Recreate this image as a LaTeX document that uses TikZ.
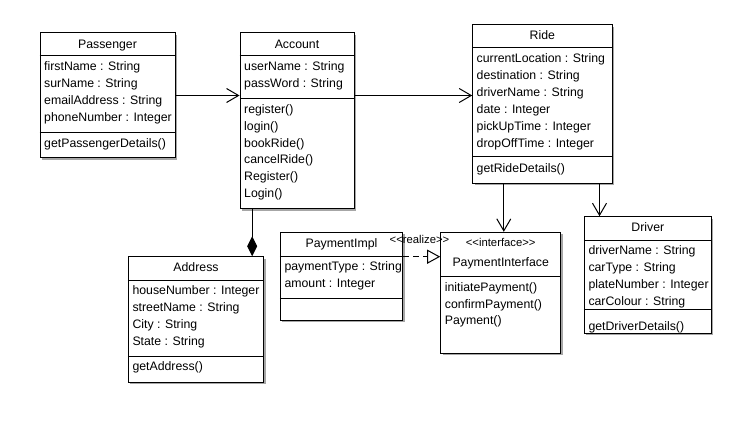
\documentclass[tikz,border=0pt]{standalone}
\usepackage{fontspec}
\setmainfont{Liberation Sans}
\usetikzlibrary{arrows.meta,fit}
\tikzset{
  cls/.style={draw=black, line width=1pt, fill=white, inner sep=0pt},
  shade/.style={fill=black!35},
  divider/.style={line width=1pt},
  txt/.style={anchor=west, inner sep=0pt, font=\fontsize{12.3}{14}\selectfont, text height=9pt, text depth=1pt},
  ttl/.style={anchor=center, inner sep=0pt, font=\fontsize{12.3}{14}\selectfont, text height=9pt, text depth=1pt},
  stereo/.style={anchor=center, inner sep=0pt, font=\fontsize{11.3}{13}\selectfont, text height=8pt, text depth=1pt},
  assoc/.style={line width=1pt, -{Straight Barb[length=12pt,width=14pt,line width=1pt]}},
  realize/.style={line width=1pt, dashed, dash pattern=on 6pt off 4pt, -{Triangle[open,length=13pt,width=14pt,line width=1pt,fill=white]}},
  comp/.style={line width=1pt, -{Diamond[length=20pt,width=10pt]}},
}
\newcommand\umlbox[5]{%
  \fill[shade] (#2+2,#3+2) rectangle (#4+2,#5+2);
  \node[cls, fit={(#2,#3) (#4,#5)}] (#1) {};
}
\newcommand\rowtext[4]{\node[txt] (#1) at (#2,#3) {#4};}
\begin{document}
\begin{tikzpicture}[x=1pt,y=-1pt]
\useasboundingbox[fill=white] (0,0) rectangle (751,438);

% Passenger
\umlbox{Passenger}{40}{33}{175}{158}
\draw[divider] (Passenger.west |- 0,56) -- (Passenger.east |- 0,56);
\draw[divider] (Passenger.west |- 0,132.3) -- (Passenger.east |- 0,132.3);
\node[ttl] (pT) at (107.5,44.5) {Passenger};
\rowtext{p1}{44}{66.7}{firstName : String}
\rowtext{p2}{44}{83.7}{surName : String}
\rowtext{p3}{44}{100.7}{emailAddress : String}
\rowtext{p4}{44}{117.7}{phoneNumber : Integer}
\rowtext{p5}{44}{143.3}{getPassengerDetails()}

% Account
\umlbox{Account}{240}{33}{354}{209}
\draw[divider] (Account.west |- 0,56) -- (Account.east |- 0,56);
\draw[divider] (Account.west |- 0,98.7) -- (Account.east |- 0,98.7);
\node[ttl] (aT) at (297,44.5) {Account};
\rowtext{a1}{244}{66.7}{userName : String}
\rowtext{a2}{244}{83.5}{passWord : String}
\rowtext{a3}{244}{109.5}{register()}
\rowtext{a4}{244}{126.3}{login()}
\rowtext{a5}{244}{143.1}{bookRide()}
\rowtext{a6}{244}{159.9}{cancelRide()}
\rowtext{a7}{244}{176.7}{Register()}
\rowtext{a8}{244}{193.5}{Login()}

% Ride
\umlbox{Ride}{472.7}{24.7}{612}{183.3}
\draw[divider] (Ride.west |- 0,48) -- (Ride.east |- 0,48);
\draw[divider] (Ride.west |- 0,156.7) -- (Ride.east |- 0,156.7);
\node[ttl] (rT) at (542.3,35.5) {Ride};
\rowtext{r1}{476.5}{59}{currentLocation : String}
\rowtext{r2}{476.5}{76}{destination : String}
\rowtext{r3}{476.5}{93}{driverName : String}
\rowtext{r4}{476.5}{110}{date : Integer}
\rowtext{r5}{476.5}{127}{pickUpTime : Integer}
\rowtext{r6}{476.5}{144}{dropOffTime : Integer}
\rowtext{r7}{476.5}{169}{getRideDetails()}

% Address
\umlbox{Address}{128.3}{256.7}{263.7}{382.3}
\draw[divider] (Address.west |- 0,280.3) -- (Address.east |- 0,280.3);
\draw[divider] (Address.west |- 0,356) -- (Address.east |- 0,356);
\node[ttl] (adT) at (196,267.5) {Address};
\rowtext{ad1}{132.3}{290.7}{houseNumber : Integer}
\rowtext{ad2}{132.3}{307.7}{streetName : String}
\rowtext{ad3}{132.3}{324.7}{City : String}
\rowtext{ad4}{132.3}{341.7}{State : String}
\rowtext{ad5}{132.3}{366.7}{getAddress()}

% PaymentImpl
\umlbox{PImpl}{280.3}{232.3}{402.7}{320}
\draw[divider] (PImpl.west |- 0,256) -- (PImpl.east |- 0,256);
\draw[divider] (PImpl.west |- 0,298.7) -- (PImpl.east |- 0,298.7);
\node[ttl] (piT) at (341.5,243.5) {PaymentImpl};
\rowtext{pi1}{284.3}{266.7}{paymentType : String}
\rowtext{pi2}{284.3}{283.5}{amount : Integer}

% PaymentInterface
\umlbox{PI}{440.7}{232.3}{560.7}{353.3}
\draw[divider] (PI.west |- 0,276.3) -- (PI.east |- 0,276.3);
\node[stereo] (pifS) at (500.7,243.3) {{<}{<}interface{>}{>}};
\node[ttl] (pifT) at (500.7,262.5) {PaymentInterface};
\rowtext{pf1}{444.7}{287.3}{initiatePayment()}
\rowtext{pf2}{444.7}{304}{confirmPayment()}
\rowtext{pf3}{444.7}{320.7}{Payment()}

% Driver
\umlbox{Driver}{584.3}{216.7}{711.3}{333.3}
\draw[divider] (Driver.west |- 0,240) -- (Driver.east |- 0,240);
\draw[divider] (Driver.west |- 0,309.3) -- (Driver.east |- 0,309.3);
\node[ttl] (dT) at (647.8,227.5) {Driver};
\rowtext{d1}{588.3}{250.7}{driverName : String}
\rowtext{d2}{588.3}{267.7}{carType : String}
\rowtext{d3}{588.3}{284.7}{plateNumber : Integer}
\rowtext{d4}{588.3}{301.5}{carColour : String}
\rowtext{d5}{588.3}{326}{getDriverDetails()}

% Connectors
\draw[assoc] ([yshift=-63pt]Passenger.north east) -- ([yshift=-63pt]Passenger.north east -| Account.west);
\draw[assoc] ([yshift=-63pt]Account.north east) -- ([yshift=-63pt]Account.north east -| Ride.west);
\draw[assoc] ([xshift=31.6pt]Ride.south west) -- ([xshift=31.6pt]Ride.south west |- PI.north);
\draw[assoc] ([xshift=127.3pt]Ride.south west) -- ([xshift=127.3pt]Ride.south west |- Driver.north);
\draw[comp] ([xshift=12.7pt]Account.south west) -- ([xshift=12.7pt]Account.south west |- Address.north);
\draw[realize] (PImpl.east |- 0,256.7) -- (PI.west |- 0,256.7);
\node[stereo] (rl) at (419.5,240.3) {{<}{<}realize{>}{>}};
\end{tikzpicture}
\end{document}
